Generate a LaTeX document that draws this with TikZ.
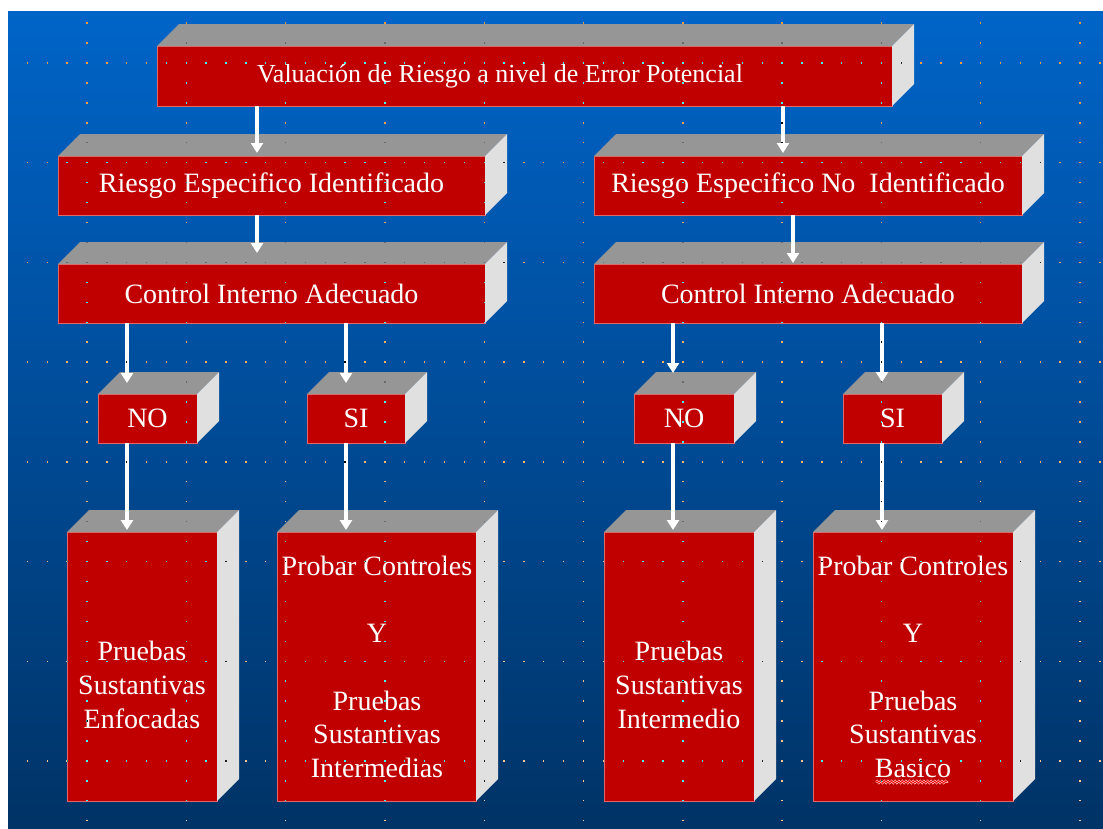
\documentclass[tikz,border=0pt]{standalone}
\usepackage{fontspec}
\setmainfont{Liberation Serif}[Ligatures=NoCommon]
\usetikzlibrary{arrows.meta,decorations.pathmorphing}
\definecolor{bgtop}{HTML}{0064C8}
\definecolor{bgbot}{HTML}{003366}
\definecolor{frontred}{HTML}{C00000}
\definecolor{topgray}{HTML}{969696}
\definecolor{sidegray}{HTML}{E0E0E0}
\definecolor{edgered}{HTML}{E06868}
\newcommand\boxfont{\fontsize{28}{33.7}\selectfont}
\newcommand\topfont{\fontsize{26}{31}\selectfont}
\tikzset{
  frontface/.style={fill=frontred, draw=edgered, line width=0.8pt, outer sep=0pt,
    inner sep=0pt, text=white, font=\boxfont, align=center},
  topface/.style={fill=topgray},
  sideface/.style={fill=sidegray},
  arr/.style={white, line width=3.5pt, -{Triangle[width=12pt,length=10pt]}},
  lbl/.style={text=white, font=\boxfont, align=center, inner sep=0pt},
  guidedot/.style={fill=white},
  squiggle/.style={decorate, decoration={snake, amplitude=1.1pt, segment length=3.6pt}}
}
% name, x1, y1, x2, y2 (front face, pixel coords), text
\newcommand\threedbox[6]{%
  \node[frontface, minimum width={(#4-#2)*1pt}, minimum height={(#5-#3)*1pt}]
    (#1) at ({(#2+#4)/2},{(#3+#5)/2}) {#6};
  \fill[topface] (#1.north west) -- ([shift={(22,-22)}]#1.north west)
    -- ([shift={(22,-22)}]#1.north east) -- (#1.north east) -- cycle;
  \fill[sideface] (#1.north east) -- ([shift={(22,-22)}]#1.north east)
    -- ([shift={(22,-22)}]#1.south east) -- (#1.south east) -- cycle;
}
\begin{document}
\begin{tikzpicture}[x=1pt,y=-1pt]
\useasboundingbox (0,0) rectangle (1103,828);
\fill[white] (0,0) rectangle (1103,828);
\shade[top color=bgtop, bottom color=bgbot] (8,11) rectangle (1103,828);

% boxes
\threedbox{top}{157}{46}{892}{106}{}
\node[lbl, font=\topfont] (toptxt) at (500,76) {Valuación de Riesgo a nivel de Error Potencial};
\threedbox{ril}{58}{156}{485}{215}{Riesgo Especifico Identificado}
\threedbox{cil}{58}{264}{485}{323}{Control Interno Adecuado}
\threedbox{rir}{594}{156}{1022}{215}{Riesgo Especifico No~ Identificado}
\threedbox{cir}{594}{264}{1022}{323}{Control Interno Adecuado}
\threedbox{nol}{98}{394}{197}{443}{NO}
\threedbox{sil}{307}{394}{405}{443}{SI}
\threedbox{nor}{634}{394}{734}{443}{NO}
\threedbox{sir}{843}{394}{942}{443}{SI}
\threedbox{pla}{67}{532}{217}{801}{}
\threedbox{plb}{277}{532}{476}{801}{}
\threedbox{pra}{604}{532}{754}{801}{}
\threedbox{prb}{813}{532}{1013}{801}{}
\node[lbl] (tla) at (142,685) {Pruebas\\Sustantivas\\Enfocadas};
\node[lbl] (tlb) at (377,667) {Probar Controles\\[33.7pt]Y\\[33.7pt]Pruebas\\Sustantivas\\Intermedias};
\node[lbl] (tra) at (679,685) {Pruebas\\Sustantivas\\Intermedio};
\node[lbl] (trb) at (913,667) {Probar Controles\\[33.7pt]Y\\[33.7pt]Pruebas\\Sustantivas\\Basico};
\draw[white, line width=1.8pt, squiggle] (876,782) -- (948,782);
\draw[red, line width=0.9pt, squiggle] (876,782) -- (948,782);

% connectors
\coordinate (ca) at (257,0);
\coordinate (cb) at (783,0);
\coordinate (cc) at (793,0);
\coordinate (cd) at (127,0);
\coordinate (ce) at (346,0);
\coordinate (cf) at (673,0);
\coordinate (cg) at (882,0);
\draw[arr] (top.south -| ca) -- ([yshift=3pt]ril.north -| ca);
\draw[arr] (top.south -| cb) -- ([yshift=3pt]rir.north -| cb);
\draw[arr] (ril.south -| ca) -- ([yshift=11pt]cil.north -| ca);
\draw[arr] (rir.south -| cc) -- ([yshift=1pt]cir.north -| cc);
\draw[arr] (cil.south -| cd) -- ([yshift=11pt]nol.north -| cd);
\draw[arr] (cil.south -| ce) -- ([yshift=11pt]sil.north -| ce);
\draw[arr] (cir.south -| cf) -- ([yshift=21pt]nor.north -| cf);
\draw[arr] (cir.south -| cg) -- ([yshift=12pt]sir.north -| cg);
\draw[arr] (nol.south -| cd) -- ([yshift=2pt]pla.north -| cd);
\draw[arr] (sil.south -| ce) -- ([yshift=2pt]plb.north -| ce);
\draw[arr] (nor.south -| cf) -- ([yshift=2pt]pra.north -| cf);
\draw[arr] (sir.south -| cg) -- ([yshift=2pt]prb.north -| cg);

% guide dots (inverted, XOR-like)
\begin{scope}[blend mode=difference]
\foreach \k in {0,...,7}{
  \foreach \j in {-3,...,51}{
    \fill[guidedot] ({87+19.86*\j-0.7},{63+99.7*\k-0.7}) rectangle ++(1.4,1.4);
  }
}
\foreach \k in {0,...,10}{
  \foreach \j in {-2,...,38}{
    \pgfmathtruncatemacro\r{mod(\j+10,5)}
    \ifnum\r=0\relax\else
      \fill[guidedot] ({87+99.3*\k-0.7},{63+19.94*\j-0.7}) rectangle ++(1.4,1.4);
    \fi
  }
}
\end{scope}
\end{tikzpicture}
\end{document}
